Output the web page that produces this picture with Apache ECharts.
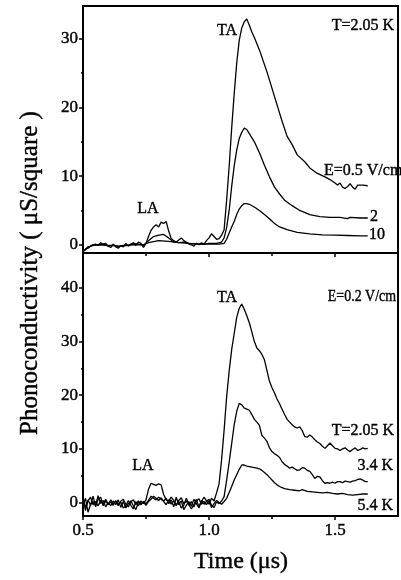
<!DOCTYPE html>
<html><head><meta charset="utf-8">
<script src="https://cdn.jsdelivr.net/npm/echarts@6/dist/echarts.min.js"></script>
<style>html,body{margin:0;padding:0;background:#fff}#c{width:401px;height:580px}</style>
</head><body><div id="c"></div>
<script>
// ---- tick labels ----
const xTicks = [0.5, 1.0, 1.5];
const xMinorTicks = [0.75, 1.25];
const topYTicks = [0, 10, 20, 30];
const topYMinor = [5, 15, 25];
const botYTicks = [0, 10, 20, 30, 40];
const botYMinor = [5, 15, 25, 35];

// ---- top panel: T = 2.05 K, various E ----
const topE05 = [[0.50,-1.0],[0.51,-0.6],[0.52,-0.5],[0.53,-0.2],[0.54,0],[0.55,0.1],[0.56,-0.1],[0.57,0.3],[0.58,0.1],[0.59,0.2],[0.60,-0.2],[0.61,-0.4],[0.62,0.1],[0.63,-0.3],[0.64,-0.5],[0.65,-0.1],[0.66,-0.3],[0.67,0.2],[0.68,-0.2],[0.69,0.1],[0.70,0.3],[0.71,-0.1],[0.72,0.4],[0.73,0.2],[0.74,-0.4],[0.75,0.2],[0.76,1.2],[0.77,2.1],[0.78,2.6],[0.79,2.9],[0.80,2.6],[0.81,3.3],[0.82,3.1],[0.83,3.4],[0.84,2.0],[0.85,0.9],[0.86,0.6],[0.87,0.4],[0.88,0.7],[0.89,1.0],[0.90,0.6],[0.91,0.4],[0.92,0.1],[0.93,0.0],[0.94,-0.2],[0.95,0.2],[0.96,0.0],[0.97,0.3],[0.98,0.1],[0.99,0.6],[1.00,1.0],[1.01,1.6],[1.02,1.2],[1.03,0.8],[1.04,0.9],[1.05,1.4],[1.06,2.2],[1.07,6.5],[1.08,11.4],[1.09,17.0],[1.10,22.0],[1.11,26.5],[1.12,29.8],[1.13,31.6],[1.14,32.5],[1.15,32.9],[1.16,32.0],[1.17,31.0],[1.18,30.2],[1.20,28.4],[1.23,25.2],[1.26,21.6],[1.29,18.0],[1.31,15.8],[1.33,14.6],[1.35,13.1],[1.38,12.1],[1.40,11.2],[1.43,10.4],[1.46,9.9],[1.48,9.5],[1.50,9.0],[1.51,8.7],[1.52,9.0],[1.53,8.4],[1.54,8.2],[1.55,8.5],[1.56,8.9],[1.57,8.4],[1.58,8.1],[1.59,8.7],[1.61,8.7],[1.63,8.6]];
const topE2 = [[0.50,-1.0],[0.52,-0.4],[0.54,0],[0.56,0],[0.58,0.1],[0.60,-0.2],[0.62,0],[0.64,-0.3],[0.66,-0.1],[0.68,-0.1],[0.70,0.2],[0.72,0.1],[0.74,-0.1],[0.76,0.6],[0.78,1.2],[0.80,1.4],[0.82,1.5],[0.84,1.0],[0.86,0.4],[0.88,0.3],[0.90,0.4],[0.92,0.2],[0.95,0.1],[0.98,0.1],[1.00,0.2],[1.03,0.2],[1.05,0.4],[1.06,1.0],[1.07,2.5],[1.08,5.0],[1.09,8.5],[1.10,11.5],[1.11,13.8],[1.12,15.5],[1.13,16.4],[1.14,17.0],[1.15,16.8],[1.16,16.2],[1.18,15.0],[1.20,13.4],[1.22,11.6],[1.24,9.9],[1.26,8.4],[1.28,7.4],[1.30,6.5],[1.33,5.7],[1.36,5.0],[1.40,4.4],[1.44,4.1],[1.48,4.0],[1.52,4.0],[1.55,3.8],[1.56,4.0],[1.60,3.9],[1.63,3.9]];
const topE10 = [[0.50,-1.0],[0.52,-0.3],[0.55,0],[0.60,-0.1],[0.65,-0.2],[0.70,0],[0.74,0],[0.76,0.3],[0.80,0.6],[0.84,0.5],[0.88,0.3],[0.92,0.2],[0.96,0.1],[1.00,0.1],[1.04,0.1],[1.06,0.2],[1.07,0.8],[1.08,1.7],[1.09,2.6],[1.10,3.4],[1.11,4.4],[1.12,5.2],[1.13,5.7],[1.14,6.0],[1.15,6.0],[1.16,5.9],[1.18,5.5],[1.20,5.0],[1.22,4.4],[1.24,3.8],[1.26,3.1],[1.28,2.6],[1.31,2.2],[1.35,1.8],[1.40,1.6],[1.45,1.45],[1.50,1.4],[1.55,1.35],[1.60,1.3],[1.63,1.3]];

// ---- bottom panel: E = 0.2 V/cm, various T ----
const botT205 = [[0.50,1.0],[0.51,-1.5],[0.52,0.5],[0.53,-0.5],[0.54,1.2],[0.55,-0.8],[0.56,0.6],[0.57,1.0],[0.58,-0.6],[0.59,0.3],[0.60,-0.4],[0.61,0.5],[0.62,-0.2],[0.63,0.2],[0.64,-0.3],[0.65,0.1],[0.66,-1.0],[0.67,-0.6],[0.68,0.4],[0.69,-0.5],[0.70,-1.2],[0.71,0.2],[0.72,-0.6],[0.73,0.3],[0.74,-0.2],[0.75,0.5],[0.76,2.5],[0.77,3.6],[0.78,3.4],[0.79,3.2],[0.80,3.5],[0.81,3.3],[0.82,1.5],[0.83,0.5],[0.84,0.3],[0.85,1.0],[0.86,0.4],[0.87,-0.4],[0.88,0.2],[0.89,-1.0],[0.90,-0.5],[0.91,0.8],[0.92,-0.3],[0.93,-1.2],[0.94,-0.4],[0.95,0.6],[0.96,-0.8],[0.97,0.2],[0.98,1.0],[0.99,0.3],[1.00,-0.3],[1.01,0.8],[1.02,0.3],[1.03,1.8],[1.04,3.5],[1.05,8.0],[1.06,13.5],[1.07,19.7],[1.08,24.5],[1.09,28.5],[1.10,31.5],[1.11,34.5],[1.12,36.2],[1.13,37.0],[1.14,36.0],[1.15,34.8],[1.16,33.5],[1.17,31.8],[1.18,30.0],[1.19,28.8],[1.20,28.3],[1.21,27.6],[1.22,26.6],[1.23,24.6],[1.24,22.6],[1.25,21.4],[1.26,20.4],[1.27,19.3],[1.28,18.4],[1.29,17.4],[1.30,16.4],[1.31,15.5],[1.32,15.0],[1.33,14.5],[1.34,14.1],[1.35,13.9],[1.36,14.1],[1.37,13.4],[1.38,12.3],[1.39,12.2],[1.40,12.6],[1.41,12.2],[1.42,11.7],[1.43,11.3],[1.44,11.0],[1.45,10.5],[1.46,10.1],[1.47,10.6],[1.48,11.1],[1.49,10.6],[1.50,10.1],[1.51,10.0],[1.52,9.7],[1.53,10.0],[1.54,10.2],[1.55,9.8],[1.56,9.5],[1.57,9.9],[1.58,10.2],[1.59,9.7],[1.60,9.9],[1.61,10.2],[1.62,10.0],[1.63,10.1]];
const botT34 = [[0.50,-0.5],[0.51,0.8],[0.52,-1.8],[0.53,-0.3],[0.54,0.2],[0.55,-0.5],[0.56,1.3],[0.57,-0.2],[0.58,0.4],[0.59,-0.8],[0.60,0],[0.61,-0.6],[0.62,0.3],[0.63,-0.4],[0.64,0.5],[0.65,-0.9],[0.66,0.2],[0.67,-1.0],[0.68,-0.2],[0.69,0.3],[0.70,-0.6],[0.71,-1.3],[0.72,0.1],[0.73,-0.4],[0.74,0.2],[0.75,-0.2],[0.76,0.4],[0.77,1.2],[0.78,0.8],[0.79,0.5],[0.80,1.0],[0.81,0.6],[0.82,0.3],[0.83,0.8],[0.84,-0.2],[0.85,0.5],[0.86,-0.8],[0.87,1.0],[0.88,-0.4],[0.89,0.3],[0.90,-1.3],[0.91,-0.5],[0.92,0.2],[0.93,-0.7],[0.94,0.6],[0.95,-0.2],[0.96,-1.0],[0.97,0.4],[0.98,-0.3],[0.99,0.2],[1.00,0.6],[1.01,-0.5],[1.02,-0.9],[1.03,0.1],[1.04,-0.2],[1.05,0.3],[1.06,1.1],[1.07,4.2],[1.08,7.5],[1.09,11.0],[1.10,14.5],[1.11,17.0],[1.12,18.5],[1.13,18.2],[1.14,17.6],[1.15,17.4],[1.16,17.2],[1.17,16.4],[1.18,15.5],[1.19,15.0],[1.20,14.4],[1.21,12.5],[1.22,12.0],[1.23,11.4],[1.24,10.2],[1.25,9.5],[1.26,9.1],[1.27,8.8],[1.28,8.4],[1.29,7.6],[1.30,7.1],[1.31,6.8],[1.32,6.4],[1.33,6.6],[1.34,6.3],[1.35,6.0],[1.36,6.1],[1.37,6.5],[1.38,6.4],[1.39,6.0],[1.40,5.8],[1.41,5.2],[1.42,4.5],[1.43,4.9],[1.44,4.8],[1.45,4.1],[1.46,3.6],[1.47,3.7],[1.48,3.6],[1.49,3.8],[1.50,3.6],[1.51,3.9],[1.52,3.9],[1.53,3.7],[1.54,4.0],[1.55,3.9],[1.56,3.8],[1.57,4.0],[1.58,4.1],[1.59,4.3],[1.60,4.4],[1.61,4.2],[1.62,3.9],[1.63,3.9]];
const botT54 = [[0.50,0.5],[0.51,-0.8],[0.52,0.3],[0.53,1.0],[0.54,-0.4],[0.55,0.2],[0.56,-0.6],[0.57,0.4],[0.58,-0.2],[0.59,0.6],[0.60,-0.3],[0.61,0.1],[0.62,-0.5],[0.63,0.4],[0.64,-0.6],[0.65,0.3],[0.66,0.6],[0.67,-0.3],[0.68,-0.8],[0.69,0.2],[0.70,0.5],[0.71,-0.4],[0.72,0.3],[0.73,-0.2],[0.74,0.1],[0.75,-0.5],[0.76,0.2],[0.77,0.6],[0.78,1.2],[0.79,0.8],[0.80,0.4],[0.81,0.9],[0.82,0.2],[0.83,-0.4],[0.84,0.5],[0.85,-0.3],[0.86,0.3],[0.87,-0.6],[0.88,0.4],[0.89,0.9],[0.90,-0.2],[0.91,0.3],[0.92,-0.5],[0.93,0.2],[0.94,-0.8],[0.95,0.3],[0.96,0.7],[0.97,-0.3],[0.98,0.2],[0.99,-0.4],[1.00,0.3],[1.01,-0.9],[1.02,-0.2],[1.03,0.4],[1.04,0.0],[1.05,-0.3],[1.06,0.2],[1.07,0.8],[1.08,1.9],[1.09,3.0],[1.10,4.2],[1.11,5.2],[1.12,6.2],[1.13,7.0],[1.14,7.0],[1.15,6.8],[1.16,6.7],[1.17,6.6],[1.18,6.5],[1.19,6.4],[1.20,6.3],[1.21,6.0],[1.22,5.6],[1.23,5.2],[1.24,4.7],[1.25,4.2],[1.26,3.7],[1.27,3.3],[1.28,3.0],[1.29,2.8],[1.30,2.6],[1.32,2.4],[1.34,2.3],[1.36,2.2],[1.37,2.4],[1.39,2.1],[1.41,2.0],[1.43,1.9],[1.45,1.8],[1.47,1.9],[1.49,1.7],[1.51,1.6],[1.53,1.7],[1.55,1.5],[1.57,1.4],[1.59,1.5],[1.61,1.6],[1.63,1.6]];

const FONT = '"Liberation Serif", "Times New Roman", serif';
const chart = echarts.init(document.getElementById('c'), null, {renderer: 'canvas'});

function xAx(gridIndex, showLabels, minor) {
  return {
    type: 'value', gridIndex, min: 0.5, max: 1.75, position: 'bottom',
    axisLine: {show: !minor, onZero: false, lineStyle: {color: '#000', width: 2}},
    axisTick: {show: true, inside: false, length: minor ? 3 : 4, lineStyle: {color: '#000', width: 1.5},
      customValues: minor ? xMinorTicks : xTicks},
    axisLabel: {show: showLabels && !minor, customValues: xTicks, margin: 6,
      fontFamily: FONT, fontSize: 17, color: '#000', textBorderColor: '#000', textBorderWidth: 0.4,
      formatter: v => v.toFixed(1)},
    splitLine: {show: false}
  };
}
function yAx(gridIndex, min, max, ticks, minorTicks, minor) {
  return {
    type: 'value', gridIndex, min, max, position: 'left',
    axisLine: {show: !minor, onZero: false, lineStyle: {color: '#000', width: 2}},
    axisTick: {show: true, inside: false, length: minor ? 2 : 4, lineStyle: {color: '#000', width: 1.5},
      customValues: minor ? minorTicks : ticks},
    axisLabel: {show: !minor, customValues: ticks, margin: 5,
      fontFamily: FONT, fontSize: 17, color: '#000', textBorderColor: '#000', textBorderWidth: 0.4},
    splitLine: {show: false}
  };
}
function line(data, xi, yi) {
  return {type: 'line', data, xAxisIndex: xi, yAxisIndex: yi, showSymbol: false, symbol: 'none',
    lineStyle: {color: '#000', width: 1.3}, clip: true, animation: false, silent: true};
}
function txt(text, x, y, align, size, sx) {
  return {type: 'text', x, y, scaleX: sx || 1, style: {text, fill: '#000', stroke: '#000', lineWidth: 0.4,
    font: (size || 16) + 'px ' + FONT, align: align || 'center', verticalAlign: 'middle'}, silent: true};
}

chart.setOption({
  animation: false,
  backgroundColor: '#fff',
  grid: [
    {left: 83, top: 6, width: 315, height: 247, show: true, borderColor: '#000', borderWidth: 2, backgroundColor: 'transparent'},
    {left: 83, top: 253, width: 315, height: 263, show: true, borderColor: '#000', borderWidth: 2, backgroundColor: 'transparent'}
  ],
  xAxis: [xAx(0, false, false), xAx(0, false, true), xAx(1, true, false), xAx(1, true, true)],
  yAxis: [yAx(0, -1.2, 34.8, topYTicks, topYMinor, false), yAx(0, -1.2, 34.8, topYTicks, topYMinor, true),
          yAx(1, -2.5, 46.5, botYTicks, botYMinor, false), yAx(1, -2.5, 46.5, botYTicks, botYMinor, true)],
  series: [
    line(topE05, 0, 0), line(topE2, 0, 0), line(topE10, 0, 0),
    line(botT205, 2, 2), line(botT34, 2, 2), line(botT54, 2, 2)
  ],
  graphic: [
    txt('TA', 227, 31), txt('LA', 148, 209),
    txt('T=2.05 K', 394, 26, 'right'), txt('E=0.5 V/cm', 324, 171, 'left'),
    txt('2', 370, 217, 'left'), txt('10', 369, 235, 'left'),
    txt('TA', 227, 298), txt('E=0.2 V/cm', 396, 297, 'right', 16, 0.87), txt('LA', 143, 466),
    txt('T=2.05 K', 394, 431, 'right'), txt('3.4 K', 393, 466, 'right'), txt('5.4 K', 393, 506, 'right'),
    txt('Time (\u03bcs)', 241, 562, 'center', 24),
    {type: 'text', x: 30, y: 273, rotation: Math.PI / 2,
      style: {text: 'Phonoconductivity ( \u03bcS/square )', fill: '#000', stroke: '#000', lineWidth: 0.4,
        font: '25px ' + FONT, align: 'center', verticalAlign: 'middle'}, silent: true}
  ]
});
</script></body></html>
